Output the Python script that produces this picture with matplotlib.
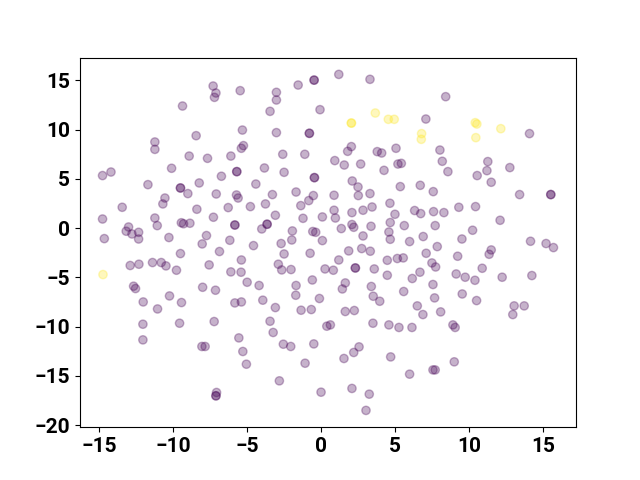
import matplotlib
matplotlib.use("Agg")
import matplotlib.pyplot as plt

# purple group (label 0)
x0 = [-9.37, -11.24, -11.24, -8.45, -8.92, -10.11, -14.21, -14.78, -7.68,
      -7.30, -7.11, -7.21, -5.47, -3.02, -3.02, -1.55, -0.47, -0.47, -3.45, -0.07,
      -5.32, -3.02, -0.79, -0.79, -5.25, -5.39, -6.10, -2.59, -1.10, -3.83,
      -5.70, -5.70, -2.50, -6.74, -0.45, -0.45,
      1.20, 3.31, 8.43, 7.09, 2.05, 1.80, 3.80, 4.10, 5.07, 8.04, 0.93, 1.57,
      2.68, 5.20, 5.43, 8.20, 4.26, 8.58, 2.11, 6.71, 5.36,
      14.10, 11.28, 11.22, 10.56, 12.77, 11.51,
      -11.71, -9.51, -9.51, -9.01, -8.24, -10.56, -10.70, -13.45, -8.40, -14.78,
      -11.24, -11.08, -9.45, -9.30, -8.87, -13.02, -13.18, -12.79, -12.34, -12.34,
      -14.66, -10.29, -7.75, -8.04, -9.51, -12.91, -12.32, -11.40, -10.81, -10.49,
      -9.78, -12.68, -12.55, -8.01, -10.25, -12.03, -11.06, -9.44,
      -4.41, -7.09, -5.72, -5.61, -3.29, -1.69, -0.52, -0.83, -1.37, -6.28, -4.78,
      -3.76, -7.28, -3.09, -1.22, 0.09, -5.83, -5.83, -3.65, -3.65, -4.01, -1.94,
      -0.56, -0.36, -6.17, -4.57, -1.98, 0.09, -2.70, -6.87, -2.50, -0.74, -5.39,
      -7.57, -2.89, -2.66, -2.03, 0.27, -6.10, -5.41, -5.00, -4.19, -1.69, -0.59,
      -7.14, -1.71, -0.11, -3.94, -5.39, -5.83, -3.09,
      2.50, 0.88, 2.52, 3.31, 7.59, 4.66, 0.88, 0.97, 2.09, 2.84, 3.45, 5.00,
      6.33, 6.74, 7.61, 8.31, 1.37, 2.09, 2.21, 3.38, 4.68, 5.63, 7.72, 2.84,
      4.59, 4.68, 5.99, 6.91, 7.86, 1.87, 2.75, 3.33, 7.11, 1.20, 0.83, 2.32,
      2.32, 3.60, 4.48, 5.16, 5.56, 7.50, 7.75, 6.69, 4.48, 6.17, 7.57, 1.64,
      1.44, 3.40, 5.59, 3.53, 3.97, 7.68, 6.51, 9.14,
      13.43, 15.54, 15.54, 9.32, 10.45, 12.11, 10.25, 9.53, 14.17, 15.22, 15.72,
      9.24, 11.51, 11.37, 10.90, 9.75, 10.41, 12.25, 14.26, 9.55, 10.52, 13.06,
      13.74,
      -12.05, -9.57, -12.05, -8.06, -7.84,
      -1.35, -0.66, -7.23, -3.45, -3.24, -5.56, 0.39, 0.63, -5.29, -2.55, -2.05,
      -0.49, -5.05, -1.08, -2.82, -7.07, -7.11, -7.11, 0.00,
      1.64, 2.25, 6.89, 8.09, 3.51, 4.59, 5.27, 6.15, 8.92, 9.07, 2.57, 2.21,
      1.55, 4.71, 5.99, 7.57, 7.72, 9.01, 2.09, 3.26, 3.04, 12.97]
y0 = [12.40, 8.75, 8.00, 9.39, 7.32, 6.08, 5.70, 5.34, 7.09,
      14.43, 13.72, 13.28, 13.96, 13.79, 13.01, 14.53, 15.03, 15.03, 11.86, 12.03,
      9.96, 9.70, 9.63, 9.63, 8.38, 8.11, 7.32, 7.50, 7.50, 6.11,
      5.74, 5.74, 5.67, 5.27, 5.13, 5.13,
      15.61, 15.11, 13.35, 11.08, 8.28, 7.80, 7.77, 7.63, 8.11, 7.93, 6.86, 6.41,
      6.51, 6.51, 6.58, 6.79, 5.87, 5.74, 4.79, 4.35, 4.22,
      9.60, 6.76, 5.84, 5.34, 6.15, 4.66,
      4.42, 4.08, 4.08, 3.51, 4.59, 3.06, 2.46, 2.12, 1.92, 0.93,
      1.03, 0.26, 0.55, 0.45, 0.50, 0.12, -0.31, -0.59, -0.42, -1.10,
      -1.06, -0.95, -0.75, -1.60, -2.58, -3.79, -3.66, -3.49, -3.49, -3.83,
      -4.27, -5.89, -6.13, -6.00, -6.88, -7.49, -8.20, -7.55,
      4.48, 3.47, 3.37, 3.06, 3.41, 3.67, 3.31, 2.80, 2.29, 2.09, 2.19,
      2.46, 1.11, 1.31, 1.00, 1.14, 0.32, 0.32, 0.40, 0.40, -0.08, -0.28,
      -0.34, -0.42, -1.23, -1.77, -1.20, -1.26, -1.56, -2.37, -2.62, -2.55, -3.23,
      -3.73, -3.66, -4.24, -4.20, -4.14, -4.44, -4.47, -5.49, -5.82, -5.82, -5.26,
      -6.30, -6.81, -7.14, -7.31, -7.49, -7.59, -8.06,
      4.18, 3.34, 3.31, 3.51, 3.71, 2.53, 1.82, 1.03, 1.58, 1.82, 2.15, 1.41,
      1.79, 1.48, 1.68, 1.58, -0.04, 0.37, 0.09, 0.19, 0.57, 0.26, 0.26, -0.79,
      -0.39, -1.13, -1.36, -0.85, -1.87, -2.31, -2.07, -2.34, -2.55, -3.23, -4.27, -4.04,
      -4.04, -4.14, -3.26, -3.08, -3.02, -3.53, -3.94, -4.47, -4.78, -5.11, -5.72, -5.56,
      -6.17, -5.92, -6.43, -6.91, -7.42, -7.08, -7.89, -4.65,
      3.41, 3.41, 3.41, 2.12, 2.19, 0.80, -0.21, -1.10, -1.33, -1.56, -1.97,
      -2.85, -2.21, -2.65, -4.07, -4.98, -5.29, -4.98, -4.81, -6.68, -7.35, -7.89,
      -7.89,
      -9.75, -9.65, -11.34, -12.01, -12.01,
      -8.33, -8.26, -9.48, -9.45, -10.59, -11.14, -9.95, -9.82, -12.52, -11.78, -12.01,
      -11.75, -13.81, -13.71, -15.50, -16.68, -17.02, -17.02, -16.65,
      -8.46, -8.36, -8.77, -8.50, -9.65, -9.82, -10.08, -10.08, -9.82, -10.08, -12.05, -12.62,
      -13.23, -13.07, -14.82, -14.39, -14.39, -13.57, -16.27, -16.85, -18.50, -8.77]

# yellow group (label 1)
x1 = [3.67, 2.05, 2.05, 4.55, 4.95, 6.80, 6.78, 10.43, 10.54, 12.16, 10.47, -14.75]
y1 = [11.69, 10.67, 10.67, 11.05, 11.05, 9.60, 9.02, 10.71, 10.57, 10.10, 9.19, -4.71]

xs = x0 + x1
ys = y0 + y1
labels = [0] * len(x0) + [1] * len(x1)

plt.rcParams['font.family'] = ['Roboto', 'DejaVu Sans']
fig, ax = plt.subplots(figsize=(6.4, 4.8), dpi=100)
ax.scatter(xs, ys, c=labels, cmap='viridis', alpha=0.3)
ax.set_xticks([-15, -10, -5, 0, 5, 10, 15])
ax.set_yticks([-20, -15, -10, -5, 0, 5, 10, 15])
for lab in ax.get_xticklabels() + ax.get_yticklabels():
    lab.set_fontsize(15)
    lab.set_fontweight('bold')
fig.savefig('out.png', dpi=100)
